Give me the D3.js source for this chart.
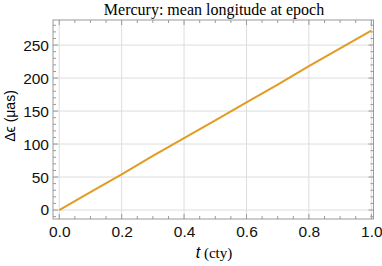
<!DOCTYPE html>
<html>
<head>
<meta charset="utf-8">
<script src="https://cdn.jsdelivr.net/npm/d3@7"></script>
<style>
  body { margin: 0; background: #fff; }
  .tick text { font-family: "Liberation Sans", Arial, sans-serif; font-size: 15.5px; fill: #111; }
</style>
</head>
<body>
<script>
// data
var tValues = [0, 0.1, 0.2, 0.3, 0.4, 0.5, 0.6, 0.7, 0.8, 0.9, 1.0];
var dEps = [0, 27, 54, 82, 109, 136, 163, 190, 218, 245, 272];
var xTicks = [0, 0.2, 0.4, 0.6, 0.8, 1.0];
var yTicks = [0, 50, 100, 150, 200, 250];

var width = 382, height = 266;
var margin = {top: 20, right: 8.5, bottom: 47, left: 53};
var w = width - margin.left - margin.right,
    h = height - margin.top - margin.bottom;

var svg = d3.select("body").append("svg")
    .attr("width", width)
    .attr("height", height);

var g = svg.append("g")
    .attr("transform", "translate(" + margin.left + "," + margin.top + ")");

var x = d3.scaleLinear().domain([-0.02, 1.007]).range([0, w]);
var y = d3.scaleLinear().domain([-13.6, 288]).range([h, 0]);

// grid
g.selectAll(".gx").data(xTicks).enter().append("line")
    .attr("x1", d => x(d)).attr("x2", d => x(d))
    .attr("y1", 0).attr("y2", h)
    .attr("stroke", "#ddd").attr("stroke-width", 1);
g.selectAll(".gy").data(yTicks).enter().append("line")
    .attr("y1", d => y(d)).attr("y2", d => y(d))
    .attr("x1", 0).attr("x2", w)
    .attr("stroke", "#ddd").attr("stroke-width", 1);

// minor/major ticks on all sides, inward
var xMinor = d3.range(0, 1.0001, 0.05);
var yMinor = d3.range(-10, 281, 10);

function tickMarks(vals, major, scale, horiz) {
  vals.forEach(function(v) {
    var isMajor = major.some(m => Math.abs(m - v) < 1e-6);
    var len = isMajor ? 5 : 3;
    if (horiz) {
      g.append("line").attr("x1", scale(v)).attr("x2", scale(v))
        .attr("y1", h).attr("y2", h - len).attr("stroke", "#999");
      g.append("line").attr("x1", scale(v)).attr("x2", scale(v))
        .attr("y1", 0).attr("y2", len).attr("stroke", "#999");
    } else {
      g.append("line").attr("y1", scale(v)).attr("y2", scale(v))
        .attr("x1", 0).attr("x2", len).attr("stroke", "#999");
      g.append("line").attr("y1", scale(v)).attr("y2", scale(v))
        .attr("x1", w).attr("x2", w - len).attr("stroke", "#999");
    }
  });
}
tickMarks(xMinor, xTicks, x, true);
tickMarks(yMinor, yTicks, y, false);

// frame
g.append("rect").attr("width", w).attr("height", h)
    .attr("fill", "none").attr("stroke", "#999").attr("stroke-width", 1);

// axes labels only
var xAxis = g.append("g").attr("class", "axis")
    .attr("transform", "translate(0," + h + ")")
    .call(d3.axisBottom(x).tickValues(xTicks).tickFormat(d3.format(".1f")).tickSize(0).tickPadding(7));
xAxis.select(".domain").remove();

var yAxis = g.append("g").attr("class", "axis")
    .call(d3.axisLeft(y).tickValues(yTicks).tickSize(0).tickPadding(4));
yAxis.select(".domain").remove();

// line
var line = d3.line()
    .x((d, i) => x(tValues[i]))
    .y(d => y(d));
g.append("path").datum(dEps)
    .attr("d", line)
    .attr("fill", "none")
    .attr("stroke", "#E19C24")
    .attr("stroke-width", 2);

// title
svg.append("text")
    .attr("x", 214).attr("y", 15)
    .attr("text-anchor", "middle")
    .style("font-family", "'Liberation Serif', 'Times New Roman', serif")
    .style("font-size", "16px")
    .text("Mercury: mean longitude at epoch");

// x label
var xl = svg.append("text")
    .attr("x", 214).attr("y", 258)
    .attr("text-anchor", "middle")
    .style("font-family", "'Liberation Serif', 'Times New Roman', serif")
    .style("font-size", "15px");
xl.append("tspan").style("font-style", "italic").style("font-family", "'Liberation Sans', Arial, sans-serif").style("font-size", "16px").text("t");
xl.append("tspan").text(" (cty)");

// y label
svg.append("text")
    .attr("transform", "translate(15,116) rotate(-90)")
    .attr("text-anchor", "middle")
    .style("font-family", "'Liberation Sans', Arial, sans-serif")
    .style("font-size", "14px")
    .text("Δϵ (μas)");
</script>
</body>
</html>
